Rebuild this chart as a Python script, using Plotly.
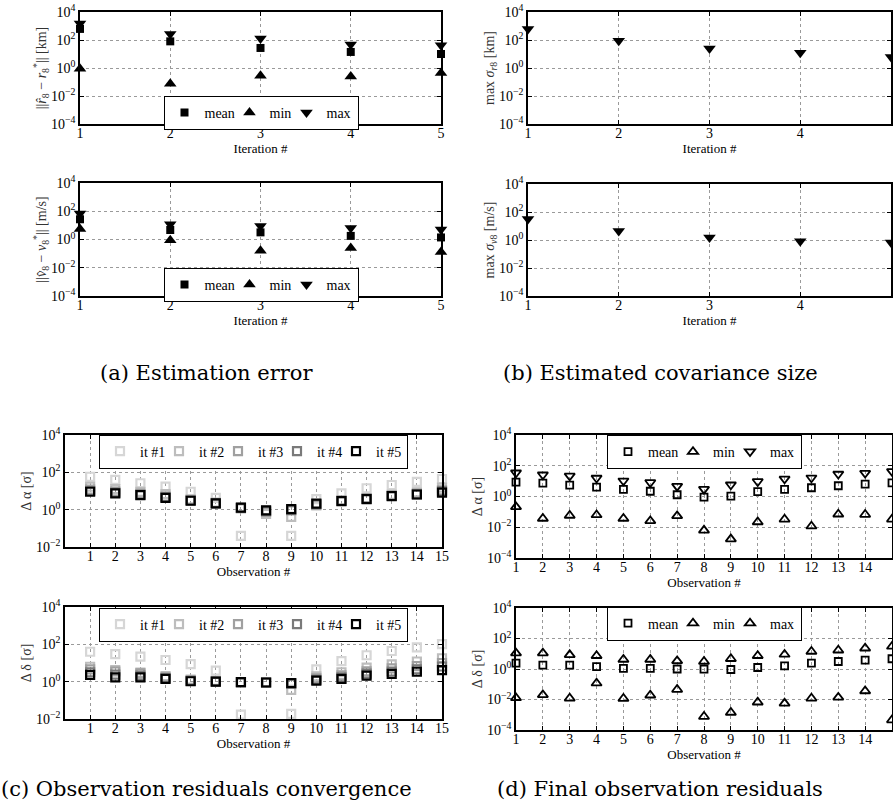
import plotly.graph_objects as go

# ---------------- data ----------------
iterations = [1, 2, 3, 4, 5]
pos_err_mean = [620, 80, 27, 14, 10]
pos_err_min = [0.9, 0.075, 0.28, 0.25, 0.44]
pos_err_max = [1500, 270, 130, 47, 42]

vel_err_mean = [27, 4.7, 3.2, 1.8, 1.4]
vel_err_min = [5.5, 0.9, 0.16, 0.25, 0.13]
vel_err_max = [70, 12, 9, 6.5, 5.2]

sigma_r_max = [610, 90, 25, 12.5, 6]
sigma_v_max = [32, 4.4, 1.5, 0.8, 0.65]

observations = list(range(1, 16))
obs_ticks = list(range(1, 16))

alpha_it1 = [58, 39, 26, 17, 9.1, 4.3, 0.039, 0.95, 0.039, 3.7, 7.4, 14, 21, 31, 44]
alpha_it2 = [17, 12.6, 9, 6.9, 3.6, 2.4, 1.2, 0.6, 0.41, 1.7, 3.1, 4.2, 6.2, 8.5, 15]
alpha_it3 = [12, 9.2, 7, 5.0, 3.2, 2.2, 1.2, 0.75, 0.9, 1.9, 3.0, 3.9, 5.6, 7.0, 11]
alpha_it4 = [10, 8.0, 6.2, 4.5, 3.1, 2.15, 1.25, 0.85, 1.0, 2.0, 3.0, 3.8, 5.4, 6.6, 9.5]
alpha_it5 = [9.1, 7.4, 6.0, 4.3, 3.0, 2.15, 1.3, 0.92, 1.07, 2.1, 2.9, 3.7, 5.3, 6.5, 8.1]

delta_it1 = [40, 30, 22, 14.5, 8.8, 3.9, 0.017, 0.9, 0.019, 4.6, 12.6, 26, 44, 68, 102]
delta_it2 = [6.3, 4.2, 3.1, 2.0, 1.3, 1.1, 0.95, 0.9, 0.36, 1.9, 3.2, 5.6, 8.5, 12, 18]
delta_it3 = [4.6, 3.5, 2.8, 1.7, 1.15, 1.0, 0.95, 0.9, 0.8, 1.5, 2.2, 3.6, 5.2, 6.8, 10]
delta_it4 = [3.2, 2.4, 2.1, 1.5, 1.1, 1.0, 0.93, 0.9, 0.82, 1.25, 1.7, 2.7, 3.5, 4.6, 6.5]
delta_it5 = [2.3, 1.7, 1.7, 1.4, 1.05, 1.0, 0.95, 0.9, 0.83, 1.15, 1.4, 2.1, 2.6, 3.4, 4.2]

fin_alpha_mean = [8.6, 7.4, 5.5, 4.1, 2.9, 2.2, 1.3, 0.9, 1.05, 2.1, 2.9, 3.7, 5.0, 6.3, 7.8]
fin_alpha_min = [0.21, 0.037, 0.058, 0.063, 0.037, 0.026, 0.055, 0.0063, 0.0017, 0.022, 0.033, 0.0117, 0.07, 0.067, 0.033]
fin_alpha_max = [35, 26, 22, 16, 10.5, 8.2, 4.7, 3.0, 5.8, 9.5, 14, 16.5, 29, 33, 43]

fin_delta_mean = [2.4, 1.8, 1.8, 1.45, 1.1, 1.1, 1.0, 0.97, 0.93, 1.25, 1.6, 2.4, 3.1, 3.8, 4.7]
fin_delta_min = [0.0126, 0.02, 0.012, 0.117, 0.0115, 0.019, 0.045, 0.00076, 0.0014, 0.0066, 0.0056, 0.012, 0.0138, 0.036, 0.00045]
fin_delta_max = [11, 11, 8.5, 7.4, 4.2, 4.2, 3.4, 3.1, 4.7, 7.4, 9, 14, 17, 23, 30]

ytick_vals_full = [1e-4, 1e-2, 1, 1e2, 1e4]
ytick_text_full = ["10<sup>−4</sup>", "10<sup>−2</sup>", "10<sup>0</sup>", "10<sup>2</sup>", "10<sup>4</sup>"]
ytick_vals_c = [1e-2, 1, 1e2, 1e4]
ytick_text_c = ["10<sup>−2</sup>", "10<sup>0</sup>", "10<sup>2</sup>", "10<sup>4</sup>"]

it_colors = ["#d6d6d6", "#bdbdbd", "#a0a0a0", "#7a7a7a", "#000000"]

# ---------------- figure ----------------
W, H = 893, 807
FONT = "Liberation Serif"
CAP_FONT = "DejaVu Serif"

# legend entry text widths (px) per label
LW = {"mean": 20, "min": 12, "max": 26, "it": 14, "last_it": 26}

def px_x(a, b):
    return [a / W, b / W]

def px_y(top, bottom):
    return [1 - bottom / H, 1 - top / H]

fig = go.Figure()

def add(x, y, ax, name, symbol, size, color="black", legend=None, show=True, lw=0, lwid=None):
    kw = {}
    if lwid is not None:
        kw["legendwidth"] = lwid
    fig.add_trace(go.Scatter(
        x=x, y=y, mode="markers", name=name,
        xaxis="x" + ("" if ax == 1 else str(ax)),
        yaxis="y" + ("" if ax == 1 else str(ax)),
        marker=dict(symbol=symbol, size=size, color=color,
                    line=dict(color=color, width=lw)),
        showlegend=show, legend=legend, cliponaxis=False, **kw
    ))

# (a) top
add(iterations, pos_err_mean, 1, "mean", "square", 8, legend="legend", lwid=LW["mean"])
add(iterations, pos_err_min, 1, "min", "triangle-up", 11, legend="legend", lwid=LW["min"])
add(iterations, pos_err_max, 1, "max", "triangle-down", 11, legend="legend", lwid=LW["max"])
# (b) top
add(iterations, sigma_r_max, 2, "max", "triangle-down", 11, show=False)
# (a) bottom
add(iterations, vel_err_mean, 3, "mean", "square", 8, legend="legend2", lwid=LW["mean"])
add(iterations, vel_err_min, 3, "min", "triangle-up", 11, legend="legend2", lwid=LW["min"])
add(iterations, vel_err_max, 3, "max", "triangle-down", 11, legend="legend2", lwid=LW["max"])
# (b) bottom
add(iterations, sigma_v_max, 4, "max", "triangle-down", 11, show=False)
# (c) top / bottom
alpha_its = [alpha_it1, alpha_it2, alpha_it3, alpha_it4, alpha_it5]
delta_its = [delta_it1, delta_it2, delta_it3, delta_it4, delta_it5]
for i in range(5):
    add(observations, alpha_its[i], 5, "it #%d" % (i + 1), "square-open", 8,
        color=it_colors[i], legend="legend3", lw=2.2,
        lwid=LW["last_it"] if i == 4 else LW["it"])
for i in range(5):
    add(observations, delta_its[i], 6, "it #%d" % (i + 1), "square-open", 8,
        color=it_colors[i], legend="legend4", lw=2.2,
        lwid=LW["last_it"] if i == 4 else LW["it"])
# (d) top
add(observations, fin_alpha_mean, 7, "mean", "square-open", 7, legend="legend5", lw=1.8, lwid=LW["mean"])
add(observations, fin_alpha_min, 7, "min", "triangle-up-open", 9, legend="legend5", lw=1.8, lwid=LW["min"])
add(observations, fin_alpha_max, 7, "max", "triangle-down-open", 9, legend="legend5", lw=1.8, lwid=LW["max"])
# (d) bottom (both extremes drawn with upward triangles, as in the original)
add(observations, fin_delta_mean, 8, "mean", "square-open", 7, legend="legend6", lw=1.8, lwid=LW["mean"])
add(observations, fin_delta_min, 8, "min", "triangle-up-open", 9, legend="legend6", lw=1.8, lwid=LW["min"])
add(observations, fin_delta_max, 8, "max", "triangle-up-open", 9, legend="legend6", lw=1.8, lwid=LW["max"])

tickfont = dict(family=FONT, size=14, color="black")
titlefont = dict(family=FONT, size=13, color="black")

def xaxis(dom, rng, ticks, title, standoff=1):
    return dict(domain=dom, range=rng, tickvals=ticks, ticktext=[str(t) for t in ticks],
                showgrid=True, gridcolor="#9a9a9a", griddash="dot", gridwidth=1,
                showline=True, linecolor="black", linewidth=1.5, mirror="ticks",
                ticks="inside", ticklen=4, tickcolor="black", tickfont=tickfont,
                ticklabelstandoff=-5,
                title=dict(text=title, font=titlefont, standoff=standoff),
                zeroline=False, automargin=False, fixedrange=True)

def yaxis(dom, rng, vals, text, title, anchor, standoff=1):
    return dict(domain=dom, type="log", range=rng, tickvals=vals, ticktext=text,
                showgrid=True, gridcolor="#9a9a9a", griddash="dot", gridwidth=1,
                showline=True, linecolor="black", linewidth=1.5, mirror="ticks",
                ticks="inside", ticklen=4, tickcolor="black", tickfont=tickfont,
                title=dict(text=title, font=dict(family=FONT, size=14, color="#333"), standoff=standoff),
                zeroline=False, automargin=False, anchor=anchor, fixedrange=True)

it_ticks = [1, 2, 3, 4, 5]
layout = dict(
    width=W, height=H, autosize=False, margin=dict(l=0, r=0, t=0, b=0),
    paper_bgcolor="white", plot_bgcolor="white",
    font=dict(family=FONT, color="black"),
    xaxis=xaxis(px_x(80, 441), [1, 5], it_ticks, "Iteration #"),
    yaxis=yaxis(px_y(12, 124), [-4, 4], ytick_vals_full, ytick_text_full,
                "||<i>r̂</i><sub>8</sub> − <i>r</i><sub>8</sub><sup>*</sup>|| [km]", "x"),
    xaxis2=xaxis(px_x(528, 891), [1, 5], it_ticks, "Iteration #"),
    yaxis2=yaxis(px_y(12, 124), [-4, 4], ytick_vals_full, ytick_text_full,
                 "max <i>σ</i><sub><i>r</i>8</sub> [km]", "x2"),
    xaxis3=xaxis(px_x(80, 441), [1, 5], it_ticks, "Iteration #"),
    yaxis3=yaxis(px_y(183, 296), [-4, 4], ytick_vals_full, ytick_text_full,
                 "||<i>v̂</i><sub>8</sub> − <i>v</i><sub>8</sub><sup>*</sup>|| [m/s]", "x3"),
    xaxis4=xaxis(px_x(528, 891), [1, 5], it_ticks, "Iteration #"),
    yaxis4=yaxis(px_y(184, 296), [-4, 4], ytick_vals_full, ytick_text_full,
                 "max <i>σ</i><sub><i>v</i>8</sub> [m/s]", "x4"),
    xaxis5=xaxis(px_x(65, 442), [0, 15], obs_ticks, "Observation #", standoff=0),
    yaxis5=yaxis(px_y(435, 547), [-2, 4], ytick_vals_c, ytick_text_c, "Δ α [σ]", "x5"),
    xaxis6=xaxis(px_x(65, 442), [0, 15], obs_ticks, "Observation #", standoff=0),
    yaxis6=yaxis(px_y(607, 719), [-2, 4], ytick_vals_c, ytick_text_c, "Δ δ [σ]", "x6"),
    xaxis7=xaxis(px_x(516, 892), [1, 15], obs_ticks, "Observation #", standoff=2),
    yaxis7=yaxis(px_y(435, 558), [-4, 4], ytick_vals_full, ytick_text_full, "Δ α [σ]", "x7"),
    xaxis8=xaxis(px_x(516, 892), [1, 15], obs_ticks, "Observation #", standoff=0),
    yaxis8=yaxis(px_y(608, 730), [-4, 4], ytick_vals_full, ytick_text_full, "Δ δ [σ]", "x8"),
)
for k in range(2, 9):
    layout["xaxis%d" % k]["anchor"] = "y%d" % k
layout["xaxis"]["anchor"] = "y"

def legend(cx, ytop):
    return dict(x=cx / W, y=1 - ytop / H, xanchor="center", yanchor="top",
                orientation="h", bgcolor="white", bordercolor="black", borderwidth=1,
                font=dict(family=FONT, size=14, color="black"),
                itemwidth=30, tracegroupgap=0, traceorder="normal")

layout["legend"] = legend(261, 96)
layout["legend2"] = legend(261, 268)
layout["legend3"] = legend(253.5, 434.5)
layout["legend4"] = legend(253.5, 607.5)
layout["legend5"] = legend(704.5, 435)
layout["legend6"] = legend(704.5, 606.5)

cap_font = dict(family=CAP_FONT, size=21, color="black")
captions = [
    ("(a) Estimation error", 206, 373),
    ("(b) Estimated covariance size", 660, 373),
    ("(c) Observation residuals convergence", 206, 789),
    ("(d) Final observation residuals", 660, 789),
]
layout["annotations"] = [
    dict(text=t, x=x / W, y=1 - y / H, xref="paper", yref="paper",
         xanchor="center", yanchor="middle", showarrow=False, font=cap_font)
    for t, x, y in captions
]

fig.update_layout(**layout)
fig.write_html("out.html",
               config={"responsive": False, "displayModeBar": False},
               post_script="document.body.style.margin='0';document.body.style.overflow='hidden';")
